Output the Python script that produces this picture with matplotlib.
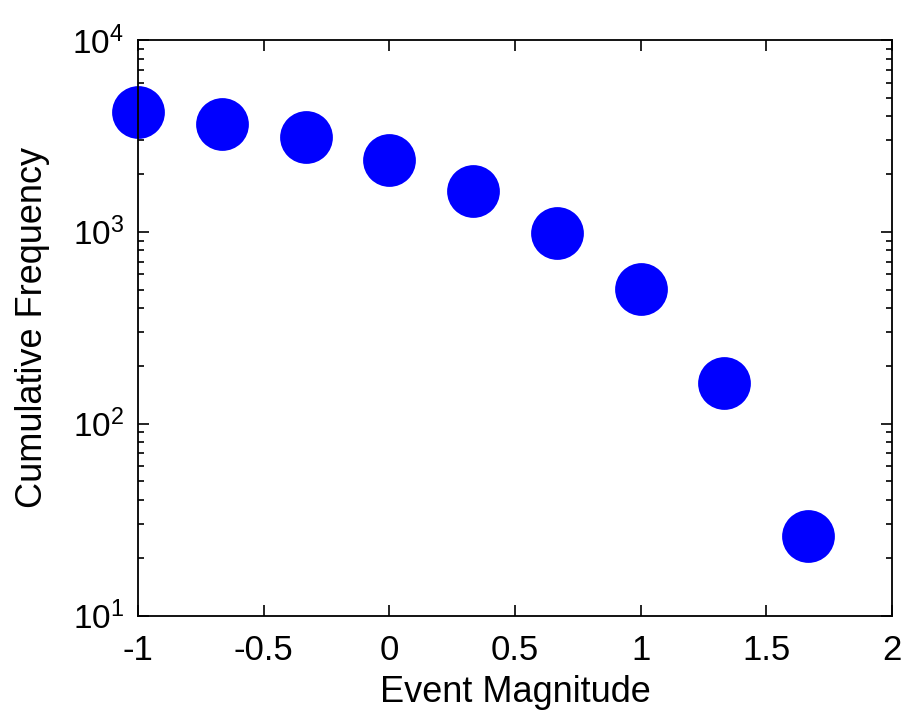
import matplotlib
matplotlib.use("Agg")
import matplotlib.pyplot as plt
import numpy as np
from matplotlib.ticker import LogLocator, FixedLocator

magnitude = [-1.0, -0.6667, -0.3333, 0.0, 0.3333, 0.6667, 1.0, 1.3333, 1.6667]
cum_freq = [4210, 3645, 3120, 2366, 1630, 985, 502, 162, 26]

plt.rcParams['font.family'] = ['Liberation Sans', 'DejaVu Sans']
plt.rcParams['mathtext.fontset'] = 'custom'
plt.rcParams['mathtext.rm'] = 'Liberation Sans'
plt.rcParams['mathtext.it'] = 'Liberation Sans:italic'

fig = plt.figure(figsize=(9.06, 7.21), dpi=100)
ax = fig.add_axes([0.1523, 0.1463, 0.8322, 0.7982])

ax.plot(magnitude, cum_freq, 'o', color='#0000ff', markersize=38, markeredgewidth=0, clip_on=False)

ax.set_yscale('log')
ax.set_xlim(-1, 2)
ax.set_ylim(10, 1e4)
ax.xaxis.set_major_locator(FixedLocator([-1, -0.5, 0, 0.5, 1, 1.5, 2]))
ax.set_xticklabels(['-1', '-0.5', '0', '0.5', '1', '1.5', '2'])
ax.yaxis.set_major_locator(LogLocator(base=10, numticks=10))
ax.yaxis.set_minor_locator(LogLocator(base=10, subs=np.arange(2, 10), numticks=20))

ax.tick_params(which='both', direction='in', top=True, right=True, width=1.2)
ax.tick_params(which='major', length=8)
ax.tick_params(which='minor', length=4)
ax.tick_params(axis='x', labelsize=25, pad=13)
ax.tick_params(axis='y', labelsize=24, pad=10)
for s in ax.spines.values():
    s.set_linewidth(1.3)

ax.set_xlabel('Event Magnitude', fontsize=26, labelpad=6)
ax.set_ylabel('Cumulative Frequency', fontsize=26, labelpad=16)

fig.savefig('out.png', dpi=100)
